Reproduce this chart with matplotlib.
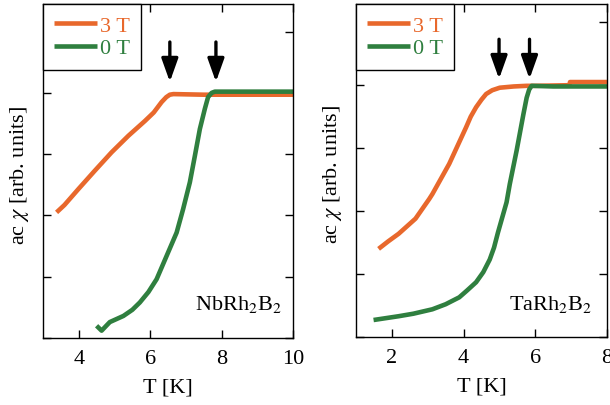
import matplotlib
matplotlib.use("Agg")
import matplotlib.pyplot as plt

plt.rcParams['font.family'] = ['Liberation Serif', 'DejaVu Serif']
plt.rcParams['mathtext.fontset'] = 'stix'

ORANGE = '#E8682C'
GREEN = '#2F7F3F'

# NbRh2B2
nb_T_3T = [3.38, 3.6, 3.99, 4.45, 4.92, 5.39, 5.85, 6.1, 6.32, 6.45, 6.55, 6.65, 7.5, 10.0]
nb_chi_3T = [2.05, 2.17, 2.43, 2.73, 3.03, 3.30, 3.54, 3.68, 3.85, 3.93, 3.97, 3.98, 3.97, 3.97]
nb_T_0T = [4.50, 4.64, 4.87, 5.25, 5.50, 5.71, 5.95, 6.18, 6.32, 6.46, 6.60, 6.74, 6.92, 7.11, 7.25, 7.39, 7.53, 7.62, 7.72, 7.81, 10.0]
nb_chi_0T = [0.20, 0.12, 0.26, 0.36, 0.46, 0.58, 0.75, 0.96, 1.15, 1.34, 1.53, 1.72, 2.10, 2.54, 2.97, 3.41, 3.74, 3.93, 4.00, 4.02, 4.02]
nb_arrows_T = [6.55, 7.84]

# TaRh2B2
ta_T_3T = [1.63, 1.9, 2.19, 2.66, 3.04, 3.13, 3.6, 4.07, 4.2, 4.35, 4.5, 4.63, 4.8, 5.01, 5.4, 5.76, 6.0, 6.95, 6.97, 8.0]
ta_chi_3T = [1.40, 1.52, 1.64, 1.88, 2.19, 2.27, 2.75, 3.33, 3.50, 3.65, 3.77, 3.86, 3.92, 3.96, 3.98, 3.99, 3.99, 4.00, 4.05, 4.05]
ta_T_0T = [1.49, 2.19, 2.6, 3.13, 3.5, 3.88, 4.1, 4.35, 4.55, 4.73, 4.85, 4.96, 5.2, 5.29, 5.48, 5.67, 5.76, 5.83, 5.9, 6.5, 8.0]
ta_chi_0T = [0.27, 0.33, 0.37, 0.44, 0.52, 0.63, 0.74, 0.87, 1.03, 1.23, 1.42, 1.66, 2.14, 2.43, 2.96, 3.54, 3.80, 3.93, 3.99, 3.98, 3.98]
ta_arrows_T = [4.99, 5.84]

labels = ['3 T', '0 T']
x_ticks_nb = [4, 6, 8, 10]
x_ticks_ta = [2, 4, 6, 8]

fig = plt.figure(figsize=(6.10, 4.06), dpi=100)
axL = fig.add_axes([0.0705, 0.165, 0.410, 0.8227])
axR = fig.add_axes([0.5836, 0.1675, 0.4114, 0.8202])

panels = [
    (axL, nb_T_3T, nb_chi_3T, nb_T_0T, nb_chi_0T, nb_arrows_T, (3, 10), (0, 5.45), x_ticks_nb,
     'NbRh$_2$B$_2$', (4.83, 4.18), 0.956, 0.087),
    (axR, ta_T_3T, ta_chi_3T, ta_T_0T, ta_chi_0T, ta_arrows_T, (1, 8), (0, 5.29), x_ticks_ta,
     'TaRh$_2$B$_2$', (4.73, 4.10), 0.94, 0.084),
]

for ax, T3, c3, T0, c0, arrT, xl, yl, xt, name, (ytail, ytip), tx, ty in panels:
    ax.plot(T3, c3, color=ORANGE, lw=3.3, label=labels[0], solid_capstyle='butt')
    ax.plot(T0, c0, color=GREEN, lw=3.3, label=labels[1], solid_capstyle='butt')
    for t in arrT:
        ax.annotate('', xy=(t, ytip), xytext=(t, ytail),
                    arrowprops=dict(arrowstyle='-|>,head_length=0.7,head_width=0.25',
                                    color='black', lw=2.4, mutation_scale=20,
                                    shrinkA=0, shrinkB=0))
    ax.set_xlim(*xl)
    ax.set_ylim(*yl)
    ax.set_xticks(xt)
    ax.set_yticks([0, 1, 2, 3, 4, 5])
    ax.set_yticklabels([])
    ax.tick_params(direction='in', length=6, width=1, top=True, right=True,
                   labelsize=16, pad=8)
    for s in ax.spines.values():
        s.set_linewidth(1)
    ax.set_xlabel('T [K]', fontsize=16, labelpad=7)
    ax.set_ylabel('ac $\\chi$ [arb. units]', fontsize=16)
    ax.yaxis.set_label_coords(-0.048, 0.49)
    ax.text(tx, ty, name, transform=ax.transAxes, ha='right', va='baseline', fontsize=16)
    leg = ax.legend(loc='upper left', fontsize=16, frameon=True, fancybox=False,
                    edgecolor='black', framealpha=1, borderaxespad=0,
                    handlelength=1.95, handletextpad=0.1, labelspacing=0.1,
                    borderpad=0.5, labelcolor='linecolor')
    leg.get_frame().set_linewidth(1)

fig.savefig('out.png', dpi=100)
